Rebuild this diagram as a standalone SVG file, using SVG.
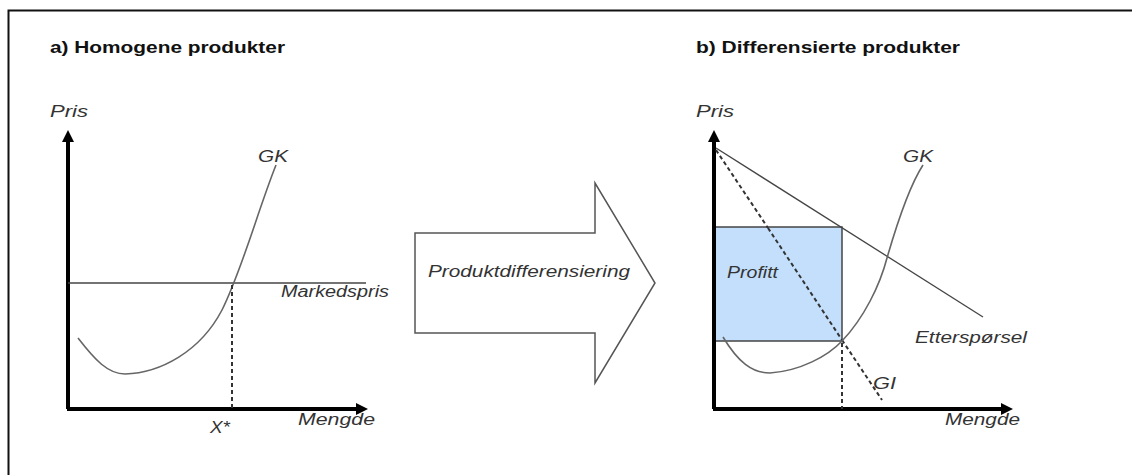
<svg xmlns="http://www.w3.org/2000/svg" width="1132" height="475" viewBox="0 0 1132 475">
<style>
.t{font-family:"Liberation Sans",Arial,sans-serif;fill:#222}
.title{font-size:16px;font-weight:bold;fill:#111}
.lab{font-size:16px;font-style:italic;fill:#333}
.axis{stroke:#000;stroke-width:4;fill:none}
.curve{stroke:#666;stroke-width:1.6;fill:none}
.line{stroke:#444;stroke-width:1.3;fill:none}
.dot{stroke:#333;stroke-width:2;stroke-dasharray:4 3;fill:none}
</style>
<defs>
<marker id="ah" viewBox="0 0 10 10" refX="5" refY="5" markerWidth="3" markerHeight="3" orient="auto-start-reverse">
<path d="M0,0 L10,5 L0,10 z" fill="#000"/>
</marker>
</defs>
<rect width="1132" height="475" fill="#fff"/>
<path d="M8.5,475 V10.5 H1132" fill="none" stroke="#111" stroke-width="2"/>

<g id="panelA">
<text class="t title" x="50" y="53" textLength="235" lengthAdjust="spacingAndGlyphs">a) Homogene produkter</text>
<text class="t lab" x="50" y="117" textLength="38" lengthAdjust="spacingAndGlyphs">Pris</text>
<path class="axis" d="M68,409 V136" marker-end="url(#ah)"/>
<path class="axis" d="M67,409 H362" marker-end="url(#ah)"/>
<path class="line" d="M68,283 H366"/>
<path class="curve" d="M78,338 C95,360 108,374 125,374 C160,373 200,352 222,310 C242,270 258,210 276,165"/>
<path class="dot" d="M232,285 V409"/>
<text class="t lab" x="258" y="162" textLength="30" lengthAdjust="spacingAndGlyphs">GK</text>
<text class="t lab" x="281" y="297" textLength="108" lengthAdjust="spacingAndGlyphs">Markedspris</text>
<text class="t lab" x="210" y="433" textLength="20" lengthAdjust="spacingAndGlyphs">X*</text>
<text class="t lab" x="298" y="425" textLength="77" lengthAdjust="spacingAndGlyphs">Mengde</text>
</g>

<g id="arrow">
<path d="M415,233 H595 V183 L655,283 L595,383 V333 H415 Z" fill="#fff" stroke="#555" stroke-width="1.5"/>
<text class="t lab" x="428" y="277" textLength="202" lengthAdjust="spacingAndGlyphs">Produktdifferensiering</text>
</g>

<g id="panelB">
<text class="t title" x="696" y="53" textLength="264" lengthAdjust="spacingAndGlyphs">b) Differensierte produkter</text>
<text class="t lab" x="696" y="117" textLength="38" lengthAdjust="spacingAndGlyphs">Pris</text>
<rect x="714" y="227" width="128" height="114" fill="#c3dffb" stroke="#444" stroke-width="1.5"/>
<path class="axis" d="M714,409 V136" marker-end="url(#ah)"/>
<path class="axis" d="M713,409 H1007" marker-end="url(#ah)"/>
<path class="line" d="M716,148 L983,317"/>
<path class="dot" d="M716,150 L768,228" stroke-width="1.8"/>
<path class="dot" d="M768,228 L842,340" stroke="#7a8a9a" stroke-width="1.6"/>
<path class="dot" d="M842,340 L882,400" stroke-width="1.8"/>
<path class="curve" d="M723,337 C738,362 752,373 770,373 C800,371 828,356 842,341 C864,318 880,285 887,258 C898,220 910,185 923,165"/>
<path class="dot" d="M842,343 V409"/>
<text class="t lab" x="727" y="278" textLength="51" lengthAdjust="spacingAndGlyphs">Profitt</text>
<text class="t lab" x="915" y="343" textLength="112" lengthAdjust="spacingAndGlyphs">Etterspørsel</text>
<text class="t lab" x="873" y="389" textLength="23" lengthAdjust="spacingAndGlyphs">GI</text>
<text class="t lab" x="903" y="162" textLength="30" lengthAdjust="spacingAndGlyphs">GK</text>
<text class="t lab" x="945" y="425" textLength="75" lengthAdjust="spacingAndGlyphs">Mengde</text>
</g>
</svg>
